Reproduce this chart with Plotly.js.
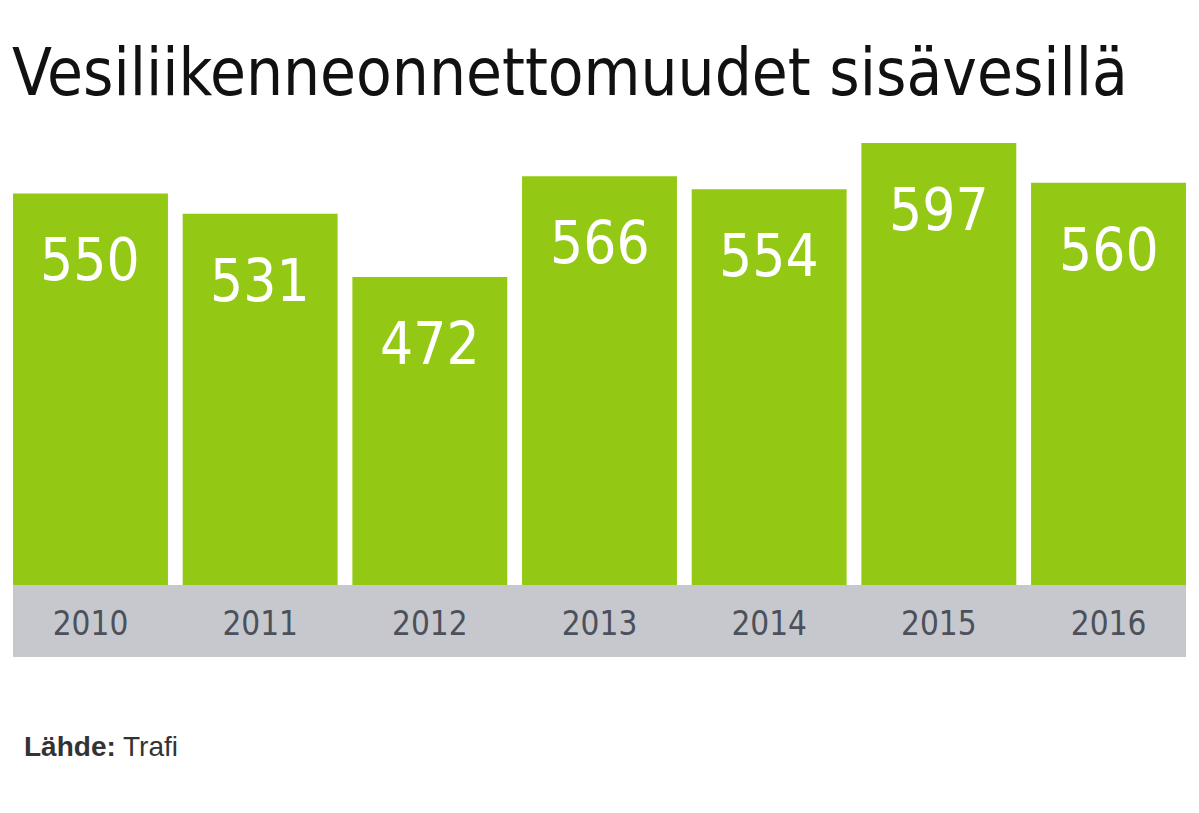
<!DOCTYPE html>
<html>
<head>
<meta charset="utf-8">
<script src="https://cdn.plot.ly/plotly-3.0.1.min.js"></script>
<style>html,body{margin:0;padding:0;background:#fff;}#chart{width:1199px;height:813px;}</style>
</head>
<body>
<div id="chart"></div>
<script>
const years = ["2010", "2011", "2012", "2013", "2014", "2015", "2016"];
const accidents = [550, 531, 472, 566, 554, 597, 560];
const titleText = "Vesiliikenneonnettomuudet sisävesillä";
const sourceText = "<b>Lähde:</b> Trafi";

const green = "#93c814";
const condensed = "'DejaVu Sans Condensed', 'Liberation Sans Narrow', sans-serif";

const trace = {
  type: "bar",
  x: years,
  y: accidents,
  marker: { color: green, line: { width: 0 } },
  hoverinfo: "x+y",
  base: 0
};

const labelAnnotations = years.map((yr, i) => ({
  x: i,
  y: accidents[i],
  xref: "x",
  yref: "y",
  text: String(accidents[i]),
  showarrow: false,
  yanchor: "top",
  yshift: -31,
  font: { family: condensed, size: 58, color: "#ffffff" }
}));

const layout = {
  width: 1199,
  height: 813,
  margin: { l: 13, r: 13, t: 143, b: 228 },
  paper_bgcolor: "#ffffff",
  plot_bgcolor: "#ffffff",
  showlegend: false,
  bargap: 0.087,
  title: {
    text: titleText,
    xref: "container",
    yref: "container",
    x: 0.010,
    xanchor: "left",
    y: 1 - 72 / 813,
    yanchor: "middle",
    font: { family: condensed, size: 65, color: "#111111" }
  },
  xaxis: {
    type: "category",
    range: [-0.4567, 6.4567],
    showgrid: false,
    zeroline: false,
    showline: false,
    ticks: "",
    ticklabelstandoff: 16,
    tickfont: { family: condensed, size: 33, color: "#4b505a" },
    fixedrange: true
  },
  yaxis: {
    range: [185, 597],
    visible: false,
    showgrid: false,
    zeroline: false,
    fixedrange: true
  },
  shapes: [{
    type: "rect",
    xref: "paper",
    yref: "paper",
    x0: 0,
    x1: 1,
    y0: -72 / 442,
    y1: 0,
    fillcolor: "#c6c8cd",
    line: { width: 0 },
    layer: "below"
  }],
  annotations: labelAnnotations.concat([{
    xref: "paper",
    yref: "paper",
    x: 9 / 1173,
    xanchor: "left",
    y: -(746 - 585) / 442,
    yanchor: "middle",
    text: sourceText,
    showarrow: false,
    font: { family: "'Liberation Sans', Arial, sans-serif", size: 28, color: "#333333" }
  }])
};

Plotly.newPlot("chart", [trace], layout, { displayModeBar: false, staticPlot: true });
</script>
</body>
</html>
